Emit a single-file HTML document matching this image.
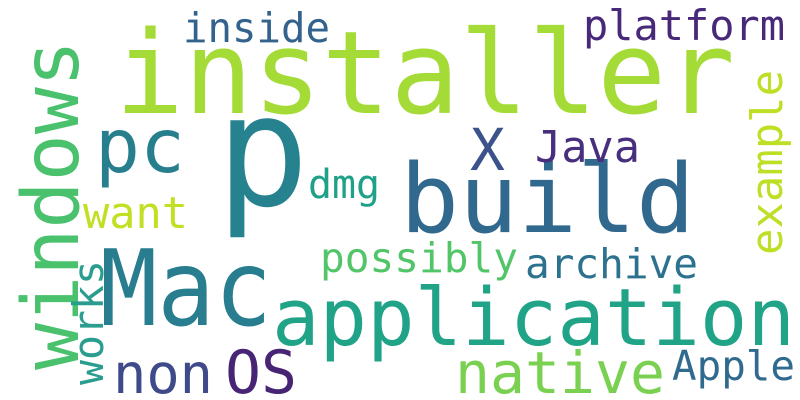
<!DOCTYPE html>
<html><head><meta charset="utf-8"><style>
html,body{margin:0;padding:0;background:#fff;}
svg{display:block;}
text{font-family:"DejaVu Sans Mono","Liberation Mono",monospace;}
</style></head><body>
<svg width="800" height="400" viewBox="0 0 800 400">
<rect width="800" height="400" fill="#fff"/>
<text x="115" y="113" font-size="115" fill="#a5db36" textLength="620" lengthAdjust="spacingAndGlyphs">installer</text>
<text x="216" y="205" font-size="155" fill="#26828e">p</text>
<text x="400" y="232" font-size="95" fill="#31688e" textLength="295" lengthAdjust="spacingAndGlyphs">build</text>
<text x="100" y="325" font-size="105" fill="#287d8e" textLength="172" lengthAdjust="spacingAndGlyphs">Mac</text>
<text x="272" y="345" font-size="79" fill="#20a386" textLength="523" lengthAdjust="spacingAndGlyphs">application</text>
<text transform="translate(78,370) rotate(-90)" font-size="78" fill="#4ac16d" textLength="330" lengthAdjust="spacingAndGlyphs">windows</text>
<text transform="translate(782,255) rotate(-90)" font-size="44" fill="#bddf26" textLength="185" lengthAdjust="spacingAndGlyphs">example</text>
<text transform="translate(103,385) rotate(-90)" font-size="42" fill="#2a9d8f" textLength="125" lengthAdjust="spacingAndGlyphs">works</text>
<text x="95" y="172" font-size="75" fill="#277f8e" textLength="90" lengthAdjust="spacingAndGlyphs">pc</text>
<text x="470" y="170" font-size="58" fill="#3b528b">X</text>
<text x="535" y="162" font-size="44" fill="#472f7d" textLength="105" lengthAdjust="spacingAndGlyphs">Java</text>
<text x="183" y="42" font-size="41" fill="#33638d" textLength="147" lengthAdjust="spacingAndGlyphs">inside</text>
<text x="583" y="40" font-size="42" fill="#482878" textLength="202" lengthAdjust="spacingAndGlyphs">platform</text>
<text x="308" y="198" font-size="40" fill="#1fa187" textLength="72" lengthAdjust="spacingAndGlyphs">dmg</text>
<text x="83" y="228" font-size="44" fill="#c2df23" textLength="105" lengthAdjust="spacingAndGlyphs">want</text>
<text x="320" y="272" font-size="41" fill="#52c569" textLength="198" lengthAdjust="spacingAndGlyphs">possibly</text>
<text x="525" y="278" font-size="41" fill="#2c728e" textLength="173" lengthAdjust="spacingAndGlyphs">archive</text>
<text x="113" y="393" font-size="55" fill="#3e4a89" textLength="100" lengthAdjust="spacingAndGlyphs">non</text>
<text x="225" y="393" font-size="60" fill="#482475" textLength="72" lengthAdjust="spacingAndGlyphs">OS</text>
<text x="455" y="393" font-size="58" fill="#7ad151" textLength="210" lengthAdjust="spacingAndGlyphs">native</text>
<text x="672" y="380" font-size="41" fill="#306a8e" textLength="123" lengthAdjust="spacingAndGlyphs">Apple</text>
</svg>
</body></html>
